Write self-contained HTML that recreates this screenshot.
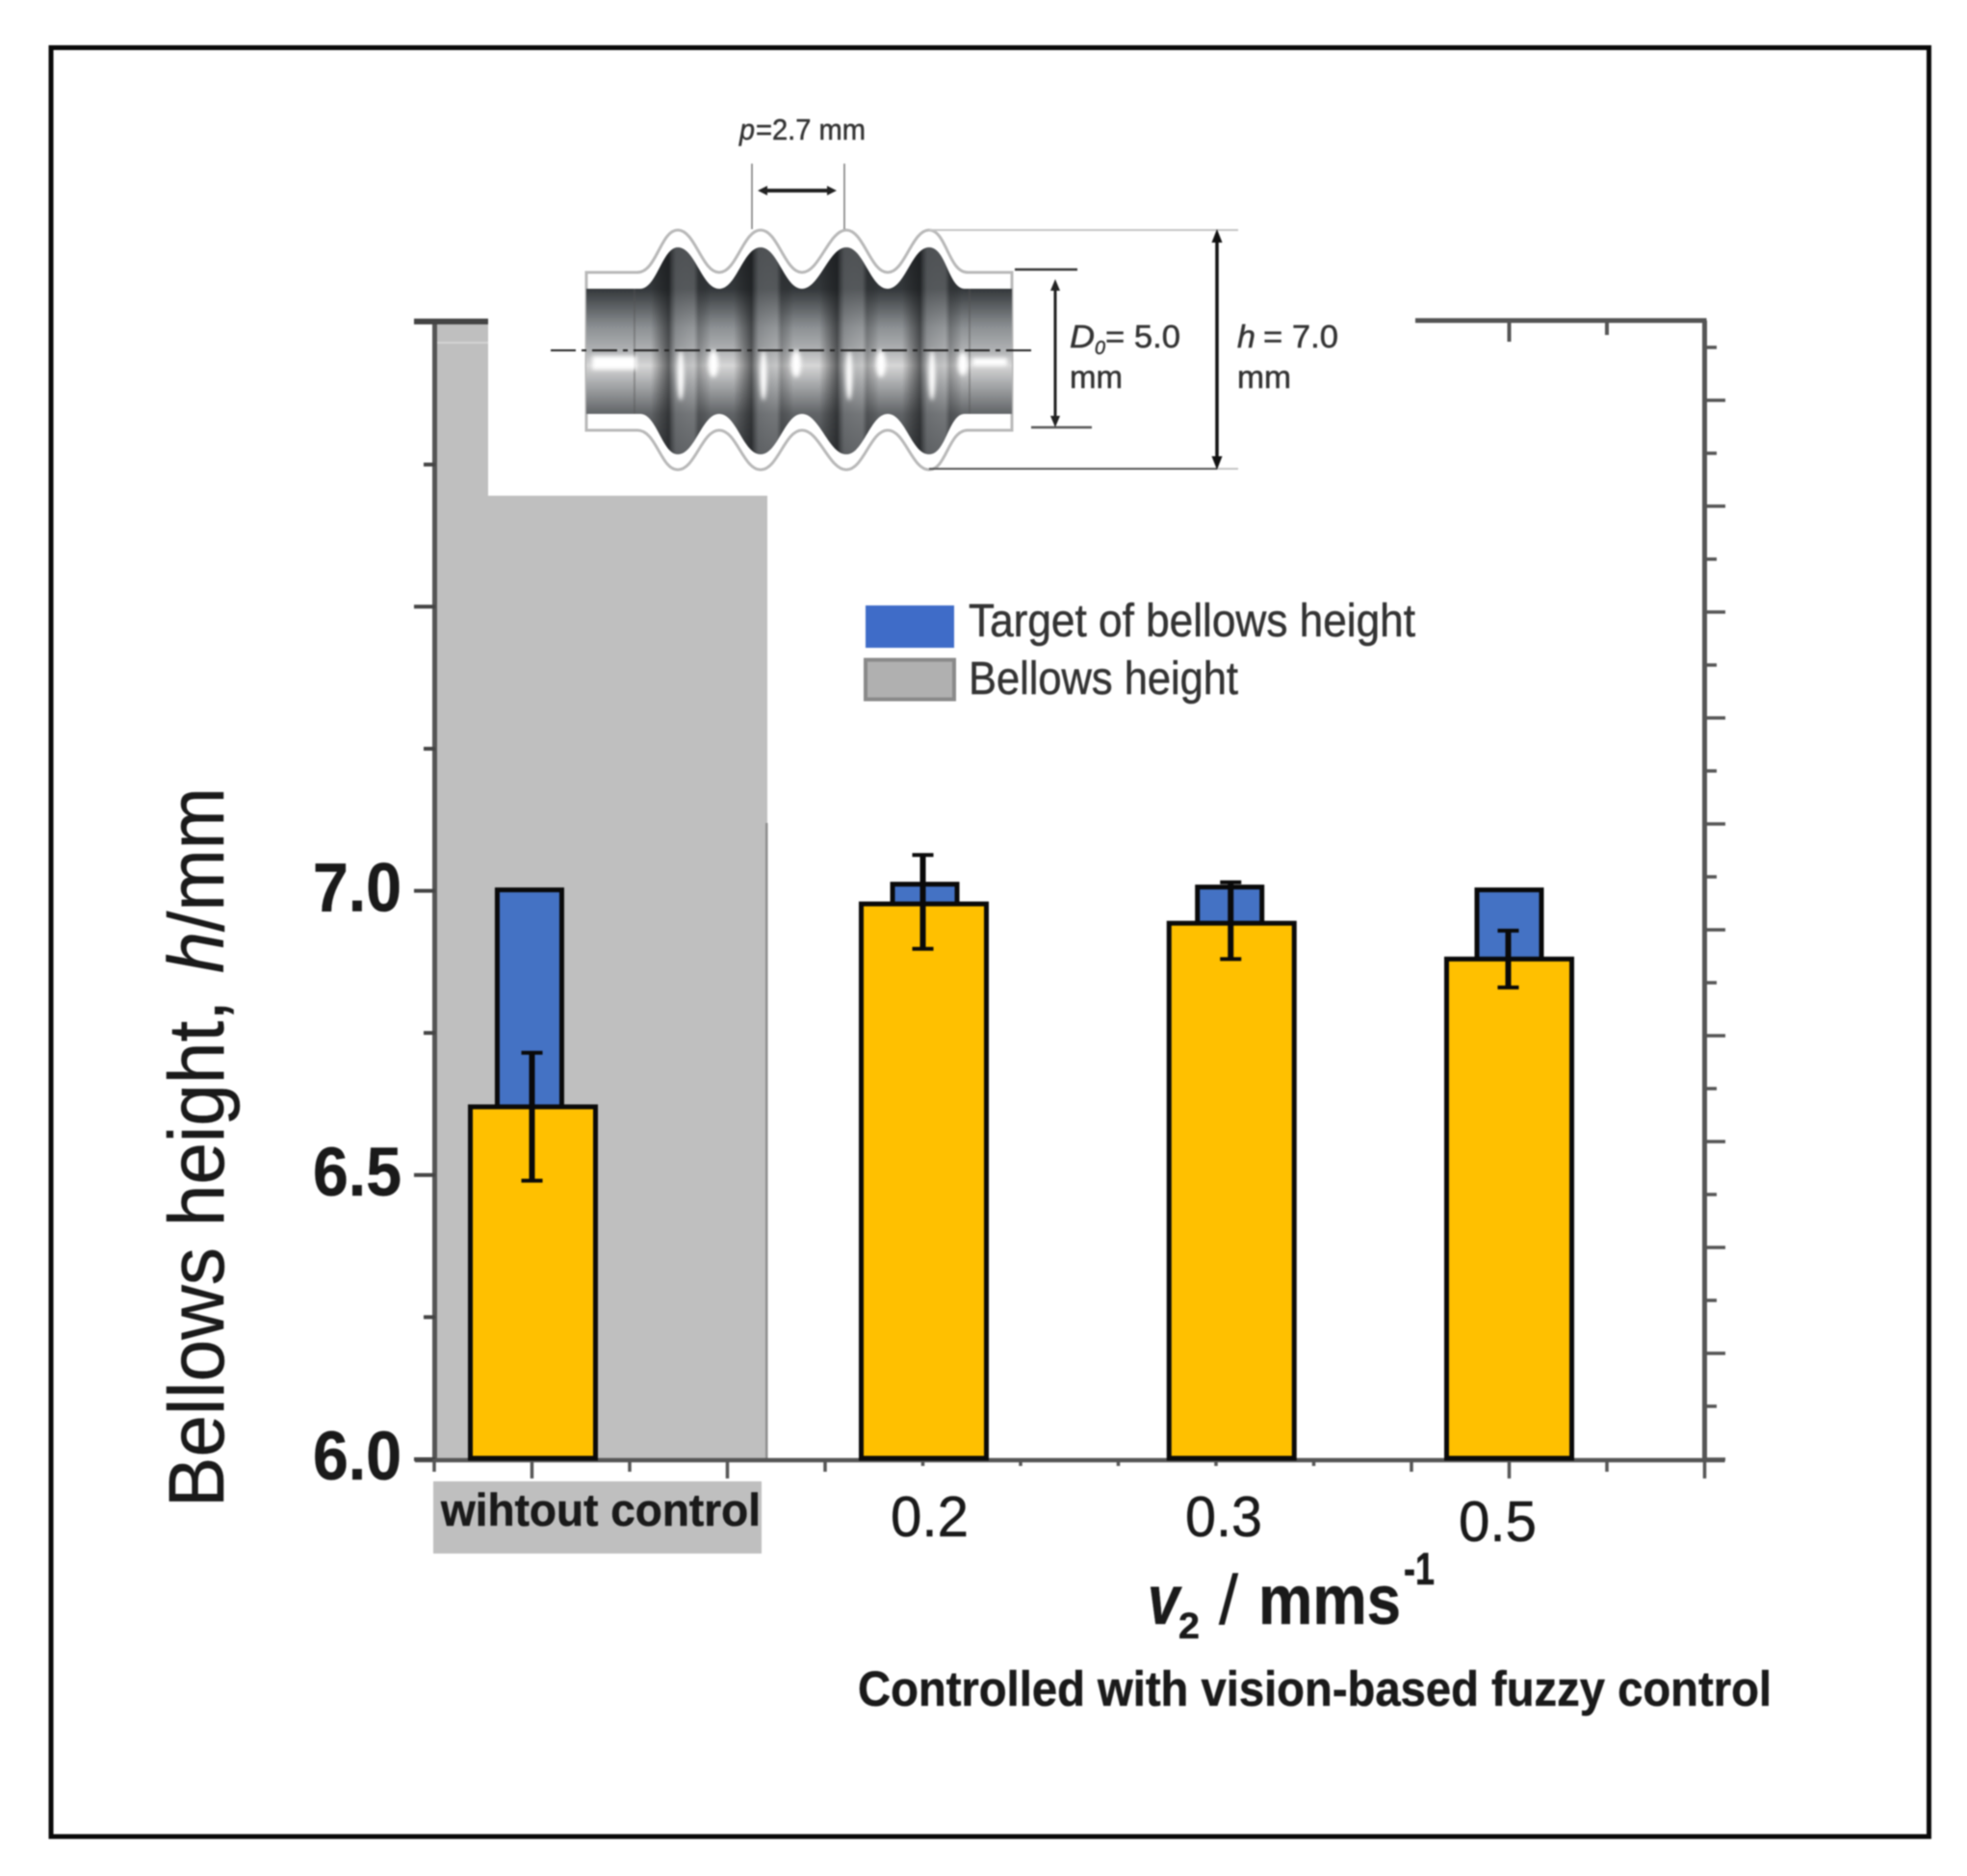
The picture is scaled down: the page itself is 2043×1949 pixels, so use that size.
<!DOCTYPE html>
<html lang="en">
<head>
<meta charset="utf-8">
<title>Bellows height chart</title>
<style>
html,body{margin:0;padding:0;background:#fff;width:2043px;height:1949px;overflow:hidden}
svg{display:block;filter:blur(.8px)}
text{font-family:"Liberation Sans",sans-serif;fill:#1a1a1a;stroke:#1a1a1a;stroke-width:.5px}
</style>
</head>
<body>
<svg id="chart" xmlns="http://www.w3.org/2000/svg" width="2043" height="1949" viewBox="0 0 2043 1949">
<defs>
<linearGradient id="tube" gradientUnits="userSpaceOnUse" x1="0" y1="257" x2="0" y2="472">
<stop offset="0" stop-color="#2a2d30"/><stop offset=".2" stop-color="#33373a"/><stop offset=".386" stop-color="#8c9093"/><stop offset=".5" stop-color="#b0b2b4"/><stop offset=".57" stop-color="#d6d6d6"/><stop offset=".665" stop-color="#a5a7a9"/><stop offset=".805" stop-color="#606366"/><stop offset="1" stop-color="#46494c"/>
</linearGradient>
<linearGradient id="rib" x1="0" y1="0" x2="1" y2="0">
<stop offset="0" stop-color="#111" stop-opacity="0"/><stop offset=".3" stop-color="#16181a" stop-opacity=".62"/><stop offset=".42" stop-color="#787b7e" stop-opacity=".45"/><stop offset=".72" stop-color="#a0a2a4" stop-opacity=".3"/><stop offset=".8" stop-color="#2a2c2e" stop-opacity=".32"/><stop offset="1" stop-color="#111" stop-opacity="0"/>
</linearGradient>
<clipPath id="tube-clip"><path d="M609 300 L665 300 C682 300 688 257 704 257 C722 257 729 300 747 300 C765 300 772 257 790 257 C808 257 815 300 833 300 C851 300 861 257 879 257 C897 257 904 300 922 300 C940 300 947 257 965 257 C983 257 985 300 1002 300 L1051 300 L1051 430 L1002 430 C985 430 983 472 965 472 C947 472 940 430 922 430 C904 430 897 472 879 472 C861 472 851 430 833 430 C815 430 808 472 790 472 C772 472 765 430 747 430 C729 430 722 472 704 472 C688 472 682 430 665 430 L609 430 Z"/></clipPath>
<filter id="soft" x="-50%" y="-50%" width="200%" height="200%"><feGaussianBlur stdDeviation="2"/></filter>
</defs>

<rect x="0" y="0" width="2043" height="1949" fill="#fff"/>
<rect x="53" y="49.5" width="1950.5" height="1858.5" fill="#fff" stroke="#0a0a0a" stroke-width="5"/>

<g>
<rect x="454" y="334" width="53" height="190" fill="#bfbfbf"/>
<rect x="454" y="515" width="343" height="1001" fill="#bfbfbf"/>
<rect x="454" y="355" width="53" height="2" fill="#d4d4d4"/>
<rect x="795" y="855" width="2.5" height="661" fill="#8f8f8f"/>
</g>

<g id="axes"></g>
<g id="bars"></g>
<g id="errors"></g>
<g id="ytick-labels"></g>

<g>
<text transform="translate(232,1566) rotate(-90)" font-size="82" textLength="527" lengthAdjust="spacingAndGlyphs">Bellows height,</text>
<text transform="translate(232,1011) rotate(-90)" font-size="82" font-style="italic" textLength="43" lengthAdjust="spacingAndGlyphs">h</text>
<text transform="translate(232,968) rotate(-90)" font-size="82" textLength="150" lengthAdjust="spacingAndGlyphs">/mm</text>
</g>

<rect x="450" y="1539" width="341" height="75" fill="#bfbfbf"/>
<text x="458" y="1585" font-size="47" font-weight="700" textLength="332" lengthAdjust="spacingAndGlyphs">wihtout control</text>
<text x="925" y="1596" font-size="59" textLength="81" lengthAdjust="spacingAndGlyphs">0.2</text>
<text x="1231" y="1596" font-size="59" textLength="80" lengthAdjust="spacingAndGlyphs">0.3</text>
<text x="1515" y="1601" font-size="59" textLength="81" lengthAdjust="spacingAndGlyphs">0.5</text>

<g>
<text x="1192" y="1687" font-size="72" font-weight="700" font-style="italic" textLength="33" lengthAdjust="spacingAndGlyphs">v</text>
<text x="1224" y="1702" font-size="38" font-weight="700" textLength="22" lengthAdjust="spacingAndGlyphs">2</text>
<text x="1266" y="1687" font-size="72" textLength="20" lengthAdjust="spacingAndGlyphs">/</text>
<text x="1307" y="1687" font-size="72" font-weight="700" textLength="148" lengthAdjust="spacingAndGlyphs">mms</text>
<text x="1458" y="1646" font-size="47" font-weight="700" textLength="32" lengthAdjust="spacingAndGlyphs">-1</text>
</g>
<text x="891" y="1772" font-size="51" font-weight="700" textLength="949" lengthAdjust="spacingAndGlyphs">Controlled with vision-based fuzzy control</text>

<g>
<rect x="899" y="629" width="92" height="44" fill="#3f6cc8"/>
<text x="1006" y="661" font-size="48" textLength="464" lengthAdjust="spacingAndGlyphs" style="fill:#333;stroke:#333">Target of bellows height</text>
<rect x="899" y="685.5" width="92" height="41" fill="#b0b0b0" stroke="#8a8a8a" stroke-width="4"/>
<text x="1006" y="721" font-size="48" textLength="280" lengthAdjust="spacingAndGlyphs" style="fill:#333;stroke:#333">Bellows height</text>
</g>

<g>
<path d="M609 283 L662 283 C682 283 686 239 704 239 C722 239 729 283 747 283 C765 283 772 239 790 239 C808 239 815 283 833 283 C851 283 861 239 879 239 C897 239 904 283 922 283 C940 283 947 239 965 239 C983 239 985 283 1005 283 L1051 283 L1051 447 L1005 447 C985 447 983 488 965 488 C947 488 940 447 922 447 C904 447 897 488 879 488 C861 488 851 447 833 447 C815 447 808 488 790 488 C772 488 765 447 747 447 C729 447 722 488 704 488 C686 488 682 447 662 447 L609 447 Z" fill="#fff" stroke="#b8b8b8" stroke-width="3"/>
<g clip-path="url(#tube-clip)">
<rect x="609" y="250" width="442" height="230" fill="url(#tube)"/>
<rect x="676" y="250" width="62" height="230" fill="url(#rib)"/>
<rect x="762" y="250" width="62" height="230" fill="url(#rib)"/>
<rect x="851" y="250" width="62" height="230" fill="url(#rib)"/>
<rect x="937" y="250" width="62" height="230" fill="url(#rib)"/>
<rect x="658" y="250" width="2" height="230" fill="#555" opacity=".4"/>
<rect x="1006" y="250" width="2" height="230" fill="#555" opacity=".4"/>
<g fill="#fff" filter="url(#soft)">
<rect x="615" y="370" width="46" height="14"/>
<ellipse cx="707" cy="390" rx="3.5" ry="26"/>
<ellipse cx="741" cy="378" rx="5" ry="14"/>
<ellipse cx="793" cy="390" rx="3.5" ry="26"/>
<ellipse cx="827" cy="378" rx="5" ry="14"/>
<ellipse cx="882" cy="390" rx="3.5" ry="26"/>
<ellipse cx="915" cy="378" rx="5" ry="14"/>
<ellipse cx="968" cy="390" rx="3.5" ry="26"/>
<ellipse cx="1000" cy="378" rx="5" ry="12"/>
<rect x="1010" y="372" width="36" height="8"/>
</g>
</g>
<line x1="572" y1="364" x2="1077" y2="364" stroke="#222" stroke-width="2" stroke-dasharray="26 6 5 6"/>

<line x1="781" y1="170" x2="781" y2="238" stroke="#777" stroke-width="1.5"/>
<line x1="877" y1="170" x2="877" y2="238" stroke="#777" stroke-width="1.5"/>
<line x1="793" y1="198" x2="863" y2="198" stroke="#222" stroke-width="4"/>
<polygon points="787,198 797,193 797,203" fill="#222"/>
<polygon points="869,198 859,193 859,203" fill="#222"/>
<text x="768" y="145" font-size="31" font-style="italic" textLength="16" lengthAdjust="spacingAndGlyphs" style="fill:#333;stroke:#333">p</text>
<text x="785" y="145" font-size="31" textLength="114" lengthAdjust="spacingAndGlyphs" style="fill:#333;stroke:#333">=2.7 mm</text>

<line x1="1054" y1="280" x2="1119" y2="280" stroke="#333" stroke-width="2.5"/>
<line x1="1071" y1="444" x2="1134" y2="444" stroke="#555" stroke-width="2.5"/>
<line x1="1096" y1="296" x2="1096" y2="438" stroke="#222" stroke-width="3"/>
<polygon points="1096,290 1091,302 1101,302" fill="#222"/>
<polygon points="1096,444 1091,432 1101,432" fill="#222"/>
<text x="1111" y="361" font-size="33" font-style="italic" textLength="26" lengthAdjust="spacingAndGlyphs" style="fill:#333;stroke:#333">D</text>
<text x="1137" y="368" font-size="20" font-style="italic" textLength="11" lengthAdjust="spacingAndGlyphs" style="fill:#333;stroke:#333">0</text>
<text x="1148" y="361" font-size="33" textLength="78" lengthAdjust="spacingAndGlyphs" style="fill:#333;stroke:#333">= 5.0</text>
<text x="1111" y="403" font-size="33" textLength="55" lengthAdjust="spacingAndGlyphs" style="fill:#333;stroke:#333">mm</text>

<line x1="965" y1="239" x2="1286" y2="239" stroke="#c4c4c4" stroke-width="2"/>
<line x1="1264" y1="487" x2="1286" y2="487" stroke="#c4c4c4" stroke-width="2"/>
<line x1="965" y1="487" x2="1264" y2="487" stroke="#555" stroke-width="2"/>
<line x1="1264" y1="246" x2="1264" y2="480" stroke="#111" stroke-width="3.5"/>
<polygon points="1264,238 1258.5,252 1269.5,252" fill="#111"/>
<polygon points="1264,488 1258.5,474 1269.5,474" fill="#111"/>
<text x="1285" y="361" font-size="33" font-style="italic" textLength="19" lengthAdjust="spacingAndGlyphs" style="fill:#333;stroke:#333">h</text>
<text x="1312" y="361" font-size="33" textLength="78" lengthAdjust="spacingAndGlyphs" style="fill:#333;stroke:#333">= 7.0</text>
<text x="1285" y="403" font-size="33" textLength="56" lengthAdjust="spacingAndGlyphs" style="fill:#333;stroke:#333">mm</text>
</g>
</svg>

<script>
const categories = ['without control', '0.2', '0.3', '0.5'];
const measuredX = [1.01, 5.01, 8.16, 11];
const targetX = [0.975, 5.02, 8.14, 11];
const targetHeight = [7.0, 7.01, 7.005, 7.0];
const measuredHeight = [6.62, 6.977, 6.943, 6.88];
const errorHigh = [6.715, 7.063, 7.015, 6.93];
const errorLow = [6.49, 6.898, 6.88, 6.83];
const yTickValues = [6, 6.25, 6.5, 6.75, 7, 7.25, 7.5, 7.75];
const yTickLabels = ['6.0', '', '6.5', '', '7.0', '', '', ''];

const SVGNS = 'http://www.w3.org/2000/svg';
const xScale = v => 451 + v * 101.5;
const yScale = v => 1516 - (v - 6) * 590.5;

function make(tag, parent, attrs) {
  const el = document.createElementNS(SVGNS, tag);
  for (const k in attrs) el.setAttribute(k, attrs[k]);
  parent.appendChild(el);
  return el;
}

const axes = document.getElementById('axes');
const bars = document.getElementById('bars');
const errors = document.getElementById('errors');
const yLabels = document.getElementById('ytick-labels');
const axisColor = '#555';

// axis spines
const spineLeft = make('line', axes, {x1: 451.5, y1: yScale(8) - 2, x2: 451.5, y2: yScale(6) + 2, stroke: axisColor, 'stroke-width': 5});


const spineBottom = make('line', axes, {x1: xScale(0) - 20, y1: yScale(6) + 1, x2: xScale(13) + 21, y2: yScale(6) + 1, stroke: axisColor, 'stroke-width': 4.5});


const spineRight = make('line', axes, {x1: xScale(13), y1: yScale(8) - 2, x2: xScale(13), y2: yScale(6) + 2, stroke: axisColor, 'stroke-width': 5});


const topLeft = make('line', axes, {x1: 430, y1: yScale(8) - 1, x2: 507, y2: yScale(8) - 1, stroke: '#444', 'stroke-width': 6});


const topRight = make('line', axes, {x1: 1470, y1: yScale(8) - 2, x2: xScale(13) + 2, y2: yScale(8) - 2, stroke: axisColor, 'stroke-width': 5});



// left ticks
yTickValues.forEach((v, i) => {
  const major = i % 2 === 0;
  const t = make('line', axes, {x1: major ? 430 : 440, y1: yScale(v), x2: 452, y2: yScale(v), stroke: '#444', 'stroke-width': 4});
  
  
  if (yTickLabels[i]) {
    const lab = make('text', yLabels, {x: 325, y: yScale(v) + 21, 'font-size': 71, 'font-weight': 700, textLength: 92, lengthAdjust: 'spacingAndGlyphs'});
    lab.textContent = yTickLabels[i];
    
    
  }
});

// right ticks
for (let k = 0; k <= 21; k++) {
  const v = 6 + k * 0.09315;
  const rt = make('line', axes, {x1: xScale(13), y1: yScale(v), x2: k % 2 === 0 ? 1792 : 1783, y2: yScale(v), stroke: axisColor, 'stroke-width': 3.5});
  
  
}

// bottom ticks
for (let i = 0; i <= 13; i++) {
  const len = (i >= 5 && i <= 9) ? 7 : (i % 2 ? 20 : 13);
  const bt = make('line', axes, {x1: xScale(i), y1: yScale(6), x2: xScale(i), y2: yScale(6) + len, stroke: axisColor, 'stroke-width': 3.5});
  
  
}

// top ticks
[11, 12].forEach((i, n) => {
  const tt = make('line', axes, {x1: xScale(i), y1: yScale(8), x2: xScale(i), y2: yScale(8) + (n === 0 ? 20 : 13), stroke: axisColor, 'stroke-width': 4});
  
  
});

const targetWidth = 67;
const measuredWidth = 130;
const edge = 5;
categories.forEach((cat, i) => {
  const tb = make('rect', bars, {
    x: xScale(targetX[i]) - targetWidth / 2, y: yScale(targetHeight[i]) - 1,
    width: targetWidth, height: yScale(6) - yScale(targetHeight[i]) - 2,
    fill: '#4472c4', stroke: '#0a0a0a', 'stroke-width': edge
  });
  
  

  const mb = make('rect', bars, {
    x: xScale(measuredX[i]) - measuredWidth / 2, y: yScale(measuredHeight[i]),
    width: measuredWidth, height: yScale(6) - yScale(measuredHeight[i]) - 1,
    fill: '#ffc000', stroke: '#0a0a0a', 'stroke-width': edge
  });
  
  

  const cx = xScale(measuredX[i]) - 1;
  const stem = make('line', errors, {x1: cx, y1: yScale(errorHigh[i]), x2: cx, y2: yScale(errorLow[i]), stroke: '#0a0a0a', 'stroke-width': 6});
  
  
  const capT = make('line', errors, {x1: cx - 11, y1: yScale(errorHigh[i]), x2: cx + 11, y2: yScale(errorHigh[i]), stroke: '#0a0a0a', 'stroke-width': 4});
  
  
  const capB = make('line', errors, {x1: cx - 11, y1: yScale(errorLow[i]), x2: cx + 11, y2: yScale(errorLow[i]), stroke: '#0a0a0a', 'stroke-width': 4});
  
  
});
</script>
</body>
</html>
